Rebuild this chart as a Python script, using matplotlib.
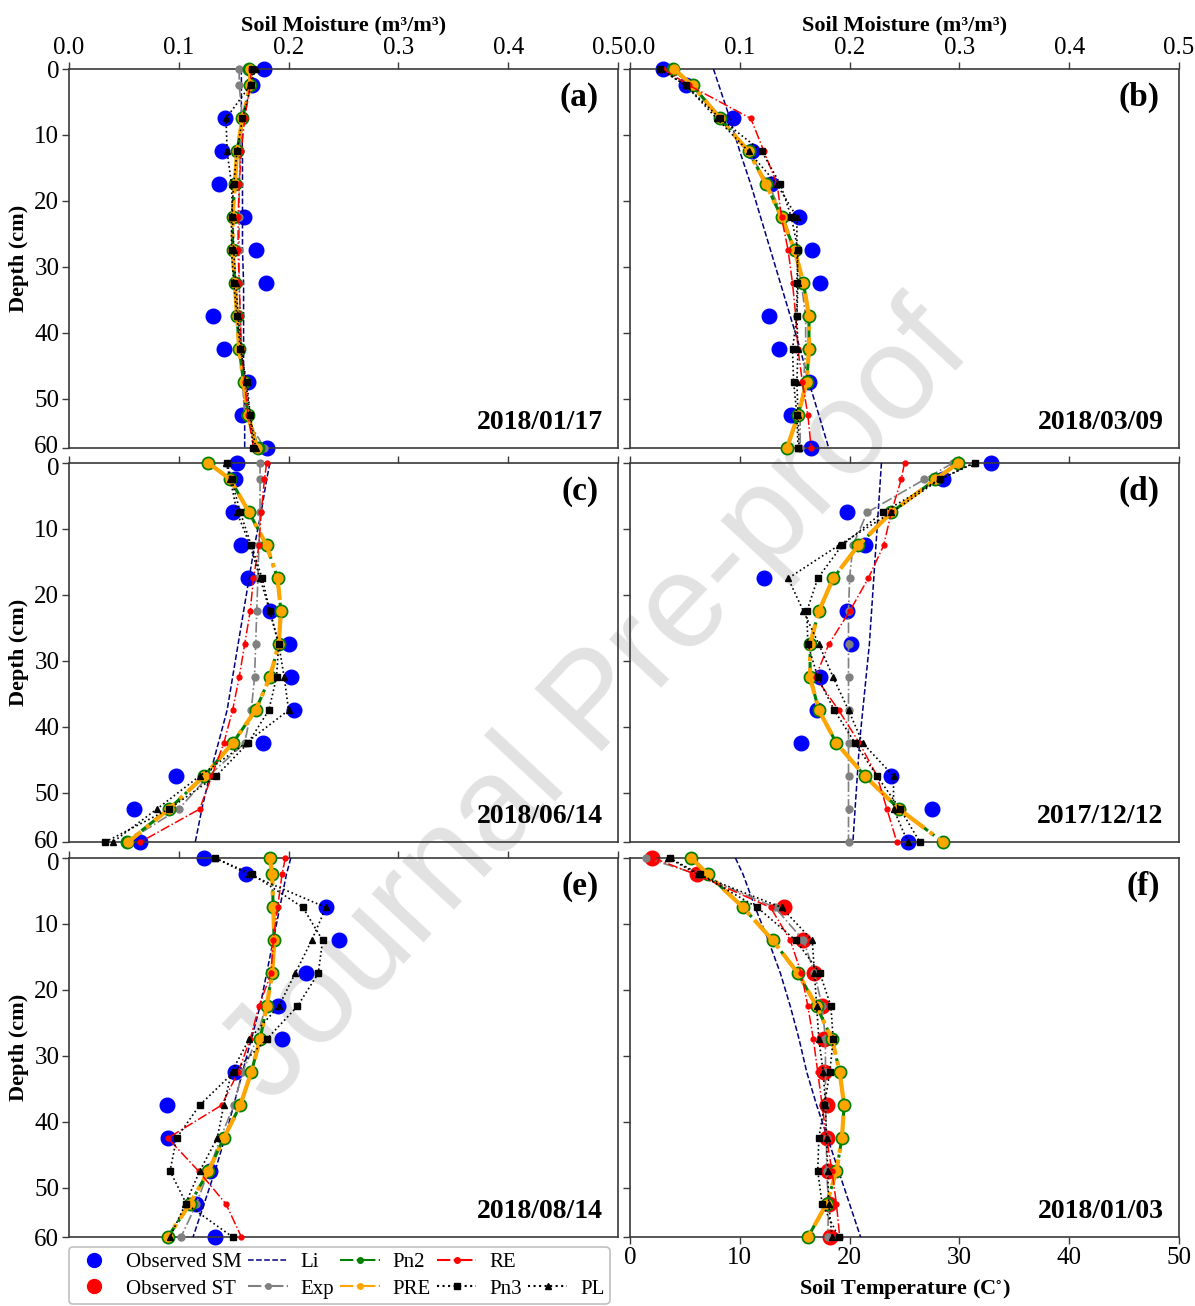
import matplotlib.pyplot as plt
from matplotlib.lines import Line2D
from matplotlib.transforms import ScaledTranslation

plt.rcParams['font.family'] = ['Liberation Serif', 'DejaVu Serif']
plt.rcParams['mathtext.fontset'] = 'stix'

# profundidades de los nodos (cm)
depth = [0, 2.5, 7.5, 12.5, 17.5, 22.5, 27.5, 32.5, 37.5, 42.5, 47.5, 52.5, 57.5]
depth_ticks = [0, 10, 20, 30, 40, 50, 57.5]
depth_labels = ['0', '10', '20', '30', '40', '50', '60']
sm_ticks = [0.0, 0.1, 0.2, 0.3, 0.4, 0.5]
st_ticks = [0, 10, 20, 30, 40, 50]

# (a) 2018/01/17
obs_a = [0.178, 0.167, 0.142, 0.139, 0.137, 0.159, 0.170, 0.179, 0.131, 0.141, 0.163, 0.158, 0.180]
li_a = [0.157, 0.157, 0.157, 0.158, 0.158, 0.158, 0.158, 0.159, 0.159, 0.159, 0.159, 0.160, 0.160]
exp_a = [0.155, 0.155, 0.158, 0.156, 0.155, 0.155, 0.155, 0.155, 0.156, 0.157, 0.158, 0.160, 0.178]
pn2_a = [0.164, 0.165, 0.158, 0.153, 0.151, 0.149, 0.149, 0.151, 0.153, 0.155, 0.159, 0.163, 0.172]
pre_a = [0.165, 0.165, 0.158, 0.153, 0.151, 0.149, 0.149, 0.151, 0.153, 0.155, 0.159, 0.163, 0.171]
re_a = [0.166, 0.165, 0.160, 0.157, 0.155, 0.154, 0.154, 0.155, 0.156, 0.157, 0.160, 0.163, 0.168]
pn3_a = [0.167, 0.166, 0.158, 0.153, 0.150, 0.148, 0.148, 0.150, 0.153, 0.156, 0.162, 0.165, 0.168]
pl_a = [0.170, 0.165, 0.143, 0.144, 0.148, 0.149, 0.150, 0.152, 0.154, 0.157, 0.161, 0.165, 0.170]

# (b) 2018/03/09
obs_b = [0.030, 0.051, 0.094, 0.111, 0.128, 0.154, 0.166, 0.173, 0.127, 0.136, 0.163, 0.147, 0.165]
li_b = [0.076, 0.081, 0.091, 0.100, 0.110, 0.119, 0.128, 0.137, 0.146, 0.155, 0.163, 0.172, 0.181]
exp_b = [0.038, 0.057, 0.084, 0.108, 0.126, 0.140, 0.150, 0.156, 0.160, 0.160, 0.158, 0.155, 0.155]
pn2_b = [0.039, 0.057, 0.082, 0.108, 0.124, 0.138, 0.150, 0.158, 0.163, 0.163, 0.161, 0.153, 0.143]
pre_b = [0.040, 0.057, 0.082, 0.108, 0.124, 0.138, 0.150, 0.158, 0.163, 0.163, 0.161, 0.153, 0.143]
re_b = [0.030, 0.054, 0.110, 0.122, 0.134, 0.138, 0.144, 0.148, 0.151, 0.153, 0.157, 0.162, 0.165]
pn3_b = [0.027, 0.051, 0.082, 0.120, 0.137, 0.147, 0.153, 0.152, 0.152, 0.148, 0.149, 0.152, 0.153]
pl_b = [0.028, 0.051, 0.079, 0.108, 0.134, 0.152, 0.152, 0.153, 0.152, 0.153, 0.152, 0.153, 0.154]

# (c) 2018/06/14
obs_c = [0.153, 0.151, 0.149, 0.157, 0.163, 0.183, 0.200, 0.202, 0.205, 0.177, 0.097, 0.059, 0.065]
li_c = [0.183, 0.180, 0.175, 0.169, 0.164, 0.159, 0.154, 0.149, 0.144, 0.136, 0.128, 0.121, 0.115]
exp_c = [0.174, 0.174, 0.174, 0.173, 0.172, 0.171, 0.170, 0.169, 0.166, 0.160, 0.127, 0.100, 0.052]
pn2_c = [0.127, 0.147, 0.164, 0.180, 0.190, 0.193, 0.191, 0.183, 0.170, 0.149, 0.123, 0.091, 0.053]
pre_c = [0.127, 0.147, 0.164, 0.180, 0.190, 0.193, 0.191, 0.183, 0.170, 0.149, 0.123, 0.091, 0.054]
re_c = [0.180, 0.178, 0.175, 0.173, 0.168, 0.165, 0.160, 0.155, 0.149, 0.141, 0.130, 0.119, 0.065]
pn3_c = [0.144, 0.148, 0.156, 0.166, 0.176, 0.183, 0.191, 0.189, 0.182, 0.163, 0.134, 0.091, 0.033]
pl_c = [0.143, 0.147, 0.153, 0.165, 0.174, 0.183, 0.191, 0.196, 0.200, 0.161, 0.119, 0.080, 0.040]

# (d) 2017/12/12
obs_d = [0.329, 0.285, 0.198, 0.214, 0.122, 0.198, 0.201, 0.173, 0.170, 0.156, 0.238, 0.275, 0.253]
li_d = [0.229, 0.228, 0.226, 0.224, 0.222, 0.220, 0.218, 0.215, 0.212, 0.209, 0.207, 0.205, 0.203]
exp_d = [0.294, 0.268, 0.216, 0.203, 0.200, 0.199, 0.199, 0.199, 0.199, 0.199, 0.199, 0.199, 0.199]
pn2_d = [0.299, 0.278, 0.238, 0.208, 0.185, 0.172, 0.164, 0.164, 0.172, 0.188, 0.214, 0.245, 0.285]
pre_d = [0.299, 0.278, 0.238, 0.208, 0.185, 0.172, 0.164, 0.164, 0.172, 0.188, 0.214, 0.245, 0.285]
re_d = [0.250, 0.247, 0.238, 0.231, 0.217, 0.200, 0.181, 0.169, 0.190, 0.209, 0.225, 0.234, 0.243]
pn3_d = [0.314, 0.282, 0.230, 0.193, 0.171, 0.161, 0.162, 0.171, 0.186, 0.205, 0.225, 0.246, 0.264]
pl_d = [0.313, 0.282, 0.238, 0.190, 0.144, 0.158, 0.172, 0.185, 0.199, 0.212, 0.240, 0.240, 0.253]

# (e) 2018/08/14
obs_e = [0.123, 0.161, 0.234, 0.246, 0.216, 0.190, 0.194, 0.151, 0.089, 0.090, 0.128, 0.116, 0.133]
li_e = [0.202, 0.198, 0.192, 0.186, 0.180, 0.174, 0.166, 0.158, 0.150, 0.142, 0.133, 0.123, 0.113]
exp_e = [0.185, 0.185, 0.186, 0.186, 0.185, 0.179, 0.171, 0.158, 0.150, 0.138, 0.127, 0.116, 0.102]
pn2_e = [0.183, 0.185, 0.186, 0.187, 0.185, 0.180, 0.174, 0.166, 0.156, 0.141, 0.127, 0.110, 0.090]
pre_e = [0.183, 0.185, 0.186, 0.187, 0.185, 0.180, 0.174, 0.166, 0.156, 0.141, 0.127, 0.110, 0.090]
re_e = [0.197, 0.194, 0.190, 0.186, 0.184, 0.173, 0.165, 0.154, 0.139, 0.090, 0.118, 0.143, 0.157]
pn3_e = [0.133, 0.167, 0.213, 0.231, 0.227, 0.208, 0.180, 0.150, 0.119, 0.098, 0.092, 0.107, 0.149]
pl_e = [0.133, 0.164, 0.234, 0.221, 0.206, 0.191, 0.164, 0.148, 0.141, 0.135, 0.119, 0.106, 0.092]

# (f) 2018/01/03, temperatura
obs_f = [2.0, 6.1, 14.0, 15.8, 16.8, 17.5, 17.7, 17.7, 17.9, 17.9, 18.0, 18.1, 18.2]
li_f = [9.6, 10.3, 11.4, 12.6, 13.7, 14.6, 15.4, 16.1, 17.0, 18.0, 19.0, 20.0, 21.0]
exp_f = [1.5, 6.2, 13.2, 15.8, 16.8, 17.5, 17.8, 17.8, 17.8, 17.9, 17.9, 18.1, 18.0]
pn2_f = [5.6, 7.1, 10.3, 13.0, 15.3, 17.0, 18.4, 19.1, 19.5, 19.3, 18.8, 17.9, 16.2]
pre_f = [5.6, 7.1, 10.3, 13.0, 15.3, 17.0, 18.4, 19.1, 19.5, 19.3, 18.8, 17.9, 16.2]
re_f = [2.1, 6.0, 12.8, 14.6, 15.6, 16.2, 16.7, 17.1, 17.5, 17.9, 18.4, 18.8, 19.1]
pn3_f = [3.6, 6.4, 11.6, 15.1, 17.3, 18.3, 18.5, 18.2, 17.7, 17.2, 17.1, 17.5, 19.0]
pl_f = [3.5, 6.2, 13.8, 16.6, 16.8, 17.0, 17.2, 17.6, 17.8, 17.9, 18.0, 18.1, 18.4]

tags = ['(a)', '(b)', '(c)', '(d)', '(e)', '(f)']
dates = ['2018/01/17', '2018/03/09', '2018/06/14', '2017/12/12', '2018/08/14', '2018/01/03']

paneles = [
    (obs_a, li_a, exp_a, pn2_a, pre_a, re_a, pn3_a, pl_a),
    (obs_b, li_b, exp_b, pn2_b, pre_b, re_b, pn3_b, pl_b),
    (obs_c, li_c, exp_c, pn2_c, pre_c, re_c, pn3_c, pl_c),
    (obs_d, li_d, exp_d, pn2_d, pre_d, re_d, pn3_d, pl_d),
    (obs_e, li_e, exp_e, pn2_e, pre_e, re_e, pn3_e, pl_e),
    (obs_f, li_f, exp_f, pn2_f, pre_f, re_f, pn3_f, pl_f),
]

W, H = 1195, 1306
fig = plt.figure(figsize=(W / 100, H / 100), dpi=100)

# marca de agua
fig.text(0.50, 0.46, 'Journal Pre-proof', family='Liberation Sans', fontsize=96,
         color='#e2e2e2', rotation=47, ha='center', va='center', zorder=-5)

lefts = [69, 630]
tops = [69, 463, 858]
spine_col = '#3a3a3a'


def mover(lbl, dx, dy):
    # desplaza una etiqueta unos pixeles
    lbl.set_transform(lbl.get_transform() + ScaledTranslation(dx / 100, dy / 100, fig.dpi_scale_trans))


for k in range(6):
    fila, col = k // 2, k % 2
    x0 = lefts[col] / W
    y0 = 1 - (tops[fila] + 379) / H
    ax = fig.add_axes([x0, y0, 549 / W, 379 / H])
    ax.set_facecolor('none')
    obs, li, ex, pn2, pre, re_, pn3, pl = paneles[k]
    obs_col = 'red' if k == 5 else 'blue'

    ax.plot(obs, depth, 'o', color=obs_col, ms=10.5, clip_on=False, zorder=2)
    ax.plot(li, depth, '--', color='#000080', lw=1.1, clip_on=False, zorder=3)
    ax.plot(ex, depth, '-.', color='gray', lw=1.2, marker='o', ms=5, clip_on=False, zorder=3)
    ax.plot(pn2, depth, '-.', color='green', lw=2.2, marker='o', ms=9, clip_on=False, zorder=4)
    ax.plot(pre, depth, '-.', color='orange', lw=3, marker='o', ms=6.5, clip_on=False, zorder=5)
    ax.plot(re_, depth, '-.', color='red', lw=1.1, marker='o', ms=3.5, clip_on=False, zorder=6)
    ax.plot(pn3, depth, ':', color='black', lw=1.2, marker='s', ms=5, clip_on=False, zorder=7)
    ax.plot(pl, depth, ':', color='black', lw=1.2, marker='^', ms=5, clip_on=False, zorder=7)

    ax.set_ylim(57.5, 0)
    ax.set_yticks(depth_ticks)
    if col == 0:
        ax.set_yticklabels(depth_labels)
        ax.set_ylabel('Depth (cm)', fontsize=16, fontweight='bold', labelpad=4)
    else:
        ax.set_yticklabels([])

    if k == 5:
        ax.set_xlim(0, 50)
        ax.set_xticks(st_ticks)
        ax.set_xlabel('Soil Temperature (C$^{\\circ}$)', fontsize=16, fontweight='bold', labelpad=6)
    else:
        ax.set_xlim(0, 0.5)
        ax.xaxis.tick_top()
        ax.set_xticks(sm_ticks)
        if fila == 0:
            ax.set_xticklabels(['%.1f' % t for t in sm_ticks])
            ax.xaxis.set_label_position('top')
            ax.set_xlabel('Soil Moisture (m³/m³)', fontsize=16, fontweight='bold', labelpad=5)
        else:
            ax.set_xticklabels([])

    ax.tick_params(labelsize=18, direction='out', length=5, width=1, color=spine_col, pad=2)
    for s in ax.spines.values():
        s.set_color(spine_col)
        s.set_linewidth(1.2)

    # separar etiquetas que chocan entre paneles
    if fila == 0 and col == 0:
        mover(ax.get_xticklabels()[-1], -10, 0)
    if fila == 0 and col == 1:
        mover(ax.get_xticklabels()[0], 10, 0)
    if col == 0:
        ylbls = ax.get_yticklabels()
        if fila < 2:
            mover(ylbls[-1], 0, 3)
        if fila > 0:
            mover(ylbls[0], 0, -3)

    ax.text(0.965, 0.926, tags[k], transform=ax.transAxes, fontsize=24, fontweight='bold',
            ha='right', va='center')
    ax.text(0.972, 0.066, dates[k], transform=ax.transAxes, fontsize=20, fontweight='bold',
            ha='right', va='center')

# leyenda
hs = [
    Line2D([], [], ls='none', marker='o', color='blue', ms=10),
    Line2D([], [], ls='none', marker='o', color='red', ms=10),
    Line2D([], [], ls='--', color='#000080', lw=1.1),
    Line2D([], [], ls='-.', color='gray', marker='o', ms=4),
    Line2D([], [], ls='-.', color='green', marker='o', ms=4),
    Line2D([], [], ls='-.', color='orange', marker='o', ms=4),
    Line2D([], [], ls='-.', color='red', marker='o', ms=4),
    Line2D([], [], ls=':', color='black', marker='s', ms=4),
    Line2D([], [], ls='none', color='none'),
    Line2D([], [], ls=':', color='black', marker='^', ms=4),
]
labs = ['Observed SM', 'Observed ST', 'Li', 'Exp', 'Pn2', 'PRE', 'RE', 'Pn3', '', 'PL']
leg = fig.legend(hs, labs, loc='lower left', bbox_to_anchor=(67 / W, 0.0), ncol=5,
                 fontsize=15, handlelength=1.9, handletextpad=0.6, columnspacing=0.3,
                 labelspacing=0.35, borderpad=0.25, borderaxespad=0.1, frameon=True, fancybox=True)
leg.get_frame().set_edgecolor('#b0b0b0')
leg.get_frame().set_linewidth(1.2)

plt.savefig('out.png', dpi=100)
plt.close()
